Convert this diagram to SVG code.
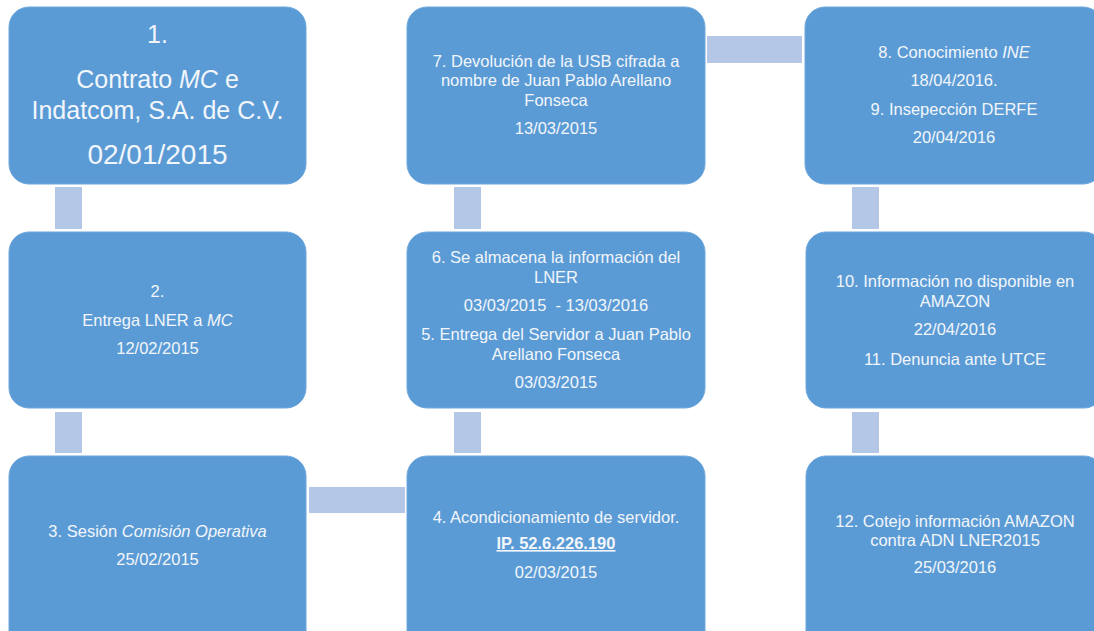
<svg xmlns="http://www.w3.org/2000/svg" width="1094" height="631" viewBox="0 0 1094 631">
<style>
.box{fill:#5B9BD5;stroke:#6FA8DC;stroke-width:1}
.con{fill:#B4C7E7}
text{font-family:"Liberation Sans",Arial,sans-serif;fill:#F2F6FB;text-anchor:middle;font-size:16.5px}
.big{font-size:25px}
.bigd{font-size:28px}
.i{font-style:italic}
.ip{font-weight:bold;text-decoration:underline}
</style>
<rect width="1094" height="631" fill="#FFFFFF"/>
<g id="connectors">
<rect class="con" x="55" y="187" width="27" height="42"/>
<rect class="con" x="55" y="412" width="27" height="41"/>
<rect class="con" x="309" y="487" width="96" height="26"/>
<rect class="con" x="454" y="412" width="27" height="41"/>
<rect class="con" x="454" y="187" width="27" height="42"/>
<rect class="con" x="707" y="36" width="95" height="27"/>
<rect class="con" x="852" y="187" width="27" height="42"/>
<rect class="con" x="852" y="412" width="27" height="41"/>
</g>
<g id="n1">
<rect class="box" x="9" y="7" width="297" height="177" rx="20"/>
<text class="big" x="157.5" y="43">1.</text>
<text class="big" x="157.5" y="88">Contrato <tspan class="i">MC</tspan> e</text>
<text class="big" x="157.5" y="119">Indatcom, S.A. de C.V.</text>
<text class="bigd" x="157.5" y="164">02/01/2015</text>
</g>
<g id="n2">
<rect class="box" x="9" y="232" width="297" height="176" rx="20"/>
<text x="157.5" y="297">2.</text>
<text x="157.5" y="326">Entrega LNER a <tspan class="i">MC</tspan></text>
<text x="157.5" y="354">12/02/2015</text>
</g>
<g id="n3">
<rect class="box" x="9" y="456" width="297" height="195" rx="20"/>
<text x="157.5" y="537">3. Sesión <tspan class="i">Comisión Operativa</tspan></text>
<text x="157.5" y="565">25/02/2015</text>
</g>
<g id="n4">
<rect class="box" x="407" y="456" width="298" height="195" rx="20"/>
<text x="556" y="523">4. Acondicionamiento de servidor.</text>
<text class="ip" x="556" y="549">IP. 52.6.226.190</text>
<text x="556" y="578">02/03/2015</text>
</g>
<g id="n5-6">
<rect class="box" x="407" y="232" width="298" height="176" rx="20"/>
<text x="556" y="263">6. Se almacena la información del</text>
<text x="556" y="283">LNER</text>
<text x="556" y="311" xml:space="preserve">03/03/2015  - 13/03/2016</text>
<text x="556" y="340">5. Entrega del Servidor a Juan Pablo</text>
<text x="556" y="360">Arellano Fonseca</text>
<text x="556" y="388">03/03/2015</text>
</g>
<g id="n7">
<rect class="box" x="407" y="7" width="298" height="177" rx="20"/>
<text x="556" y="67">7. Devolución de la USB cifrada a</text>
<text x="556" y="86">nombre de Juan Pablo Arellano</text>
<text x="556" y="106">Fonseca</text>
<text x="556" y="134">13/03/2015</text>
</g>
<g id="n8-9">
<rect class="box" x="805" y="7" width="298" height="177" rx="20"/>
<text x="954" y="58">8. Conocimiento <tspan class="i">INE</tspan></text>
<text x="954" y="86">18/04/2016.</text>
<text x="954" y="115">9. Insepección DERFE</text>
<text x="954" y="143">20/04/2016</text>
</g>
<g id="n10-11">
<rect class="box" x="806" y="232" width="298" height="176" rx="20"/>
<text x="955" y="287">10. Información no disponible en</text>
<text x="955" y="307">AMAZON</text>
<text x="955" y="335">22/04/2016</text>
<text x="955" y="365">11. Denuncia ante UTCE</text>
</g>
<g id="n12">
<rect class="box" x="806" y="456" width="298" height="195" rx="20"/>
<text x="955" y="527">12. Cotejo información AMAZON</text>
<text x="955" y="546">contra ADN LNER2015</text>
<text x="955" y="573">25/03/2016</text>
</g>
</svg>
